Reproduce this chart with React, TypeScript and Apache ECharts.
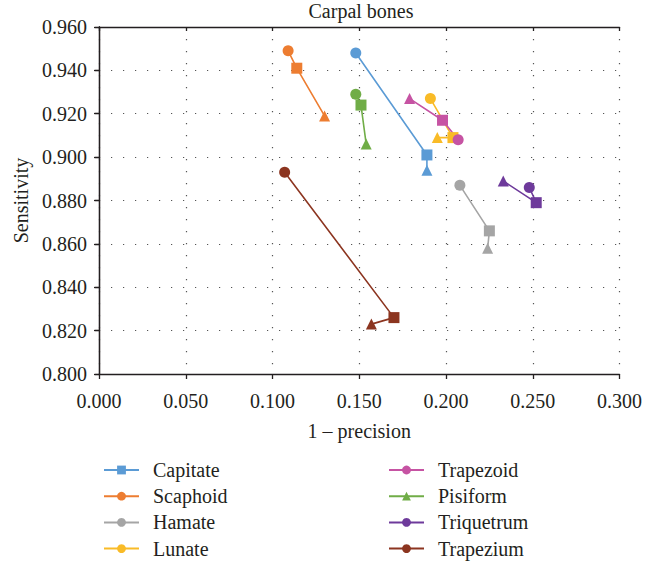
import React, { useEffect, useRef } from "react";
import * as echarts from "echarts";

const seriesNames = ["Capitate", "Scaphoid", "Hamate", "Lunate", "Trapezoid", "Pisiform", "Triquetrum", "Trapezium"];
const seriesColors = ["#5b9bd5", "#ed7d31", "#a5a5a5", "#f9bb27", "#c653a3", "#70ad47", "#6e3a9b", "#8c3520"];
const legendSymbols = ["rect", "circle", "circle", "circle", "circle", "triangle", "circle", "circle"];
// point order in each series: circle, square, triangle
const pointSymbols = ["circle", "rect", "triangle"];

const capitateX = [0.148, 0.189, 0.189];
const capitateY = [0.948, 0.901, 0.894];
const scaphoidX = [0.109, 0.114, 0.130];
const scaphoidY = [0.949, 0.941, 0.919];
const hamateX = [0.208, 0.225, 0.224];
const hamateY = [0.887, 0.866, 0.858];
const lunateX = [0.191, 0.204, 0.195];
const lunateY = [0.927, 0.909, 0.909];
const trapezoidX = [0.207, 0.198, 0.179];
const trapezoidY = [0.908, 0.917, 0.927];
const pisiformX = [0.148, 0.151, 0.154];
const pisiformY = [0.929, 0.924, 0.906];
const triquetrumX = [0.248, 0.252, 0.233];
const triquetrumY = [0.886, 0.879, 0.889];
const trapeziumX = [0.107, 0.170, 0.157];
const trapeziumY = [0.893, 0.826, 0.823];

const allX = [capitateX, scaphoidX, hamateX, lunateX, trapezoidX, pisiformX, triquetrumX, trapeziumX];
const allY = [capitateY, scaphoidY, hamateY, lunateY, trapezoidY, pisiformY, triquetrumY, trapeziumY];

const FONT = "Liberation Serif";
const TXT = "#231f20";
const FS = 20;

export default function App() {
  const ref = useRef<HTMLDivElement>(null);
  useEffect(() => {
    if (!ref.current) return;
    const chart = echarts.init(ref.current, null, { renderer: "svg" });
    const axisLine = { show: true, lineStyle: { color: "#231f20", width: 1.3 } };
    const split = { show: true, lineStyle: { color: "#555", width: 1.2, type: [1.2, 10.8] } };
    const series = seriesNames.map((name, i) => ({
      name,
      type: "line",
      xAxisIndex: 0,
      yAxisIndex: 0,
      symbol: legendSymbols[i],
      symbolSize: 11,
      color: seriesColors[i],
      lineStyle: { width: 1.6, color: seriesColors[i] },
      itemStyle: { color: seriesColors[i] },
      data: allX[i].map((x, j) => ({
        value: [x, allY[i][j]],
        symbol: pointSymbols[j],
        symbolSize: 11,
      })),
    }));
    const legendCommon = {
      orient: "vertical",
      padding: 0,
      height: 104,
      itemWidth: 35,
      itemHeight: 11,
      itemGap: 6.2,
      textStyle: { fontFamily: FONT, fontSize: FS, color: TXT, padding: [0, 0, 0, 9], lineHeight: 18 },
    };
    chart.setOption({
      animation: false,
      title: {
        text: "Carpal bones",
        left: 361,
        textAlign: "center",
        top: 1,
        padding: 0,
        textStyle: { fontFamily: FONT, fontSize: FS, fontWeight: "normal", color: TXT },
      },
      grid: { left: 99, right: 22, top: 27, bottom: 191, containLabel: false },
      legend: [
        { ...legendCommon, data: seriesNames.slice(0, 4), left: 103, top: 460 },
        { ...legendCommon, data: seriesNames.slice(4), left: 388, top: 460 },
      ],
      xAxis: [
        {
          type: "value",
          min: 0,
          max: 0.3,
          interval: 0.05,
          position: "bottom",
          name: "1 \u2013 precision",
          nameLocation: "middle",
          nameGap: 47,
          nameTextStyle: { fontFamily: FONT, fontSize: FS, color: TXT },
          axisLine,
          axisTick: { show: true, inside: false, length: 5, lineStyle: { color: "#231f20", width: 1.3 } },
          axisLabel: { fontFamily: FONT, fontSize: FS, color: TXT, margin: 17, formatter: (v: number) => v.toFixed(3) },
          splitLine: split,
        },
        {
          type: "value",
          min: 0,
          max: 0.3,
          interval: 0.05,
          position: "top",
          axisLine,
          axisTick: { show: true, inside: true, length: 4, lineStyle: { color: "#231f20", width: 1.3 } },
          axisLabel: { show: false },
          splitLine: { show: false },
        },
      ],
      yAxis: [
        {
          type: "value",
          min: 0.8,
          max: 0.96,
          interval: 0.02,
          position: "left",
          name: "Sensitivity",
          nameLocation: "middle",
          nameGap: 68,
          nameTextStyle: { fontFamily: FONT, fontSize: FS, color: TXT },
          axisLine,
          axisTick: { show: true, inside: false, length: 5, lineStyle: { color: "#231f20", width: 1.3 } },
          axisLabel: { fontFamily: FONT, fontSize: FS, color: TXT, margin: 12, formatter: (v: number) => v.toFixed(3) },
          splitLine: split,
        },
        {
          type: "value",
          min: 0.8,
          max: 0.96,
          interval: 0.02,
          position: "right",
          axisLine,
          axisTick: { show: true, inside: true, length: 4, lineStyle: { color: "#231f20", width: 1.3 } },
          axisLabel: { show: false },
          splitLine: { show: false },
        },
      ],
      series,
    });
    return () => chart.dispose();
  }, []);
  return <div ref={ref} style={{ width: 645, height: 565, position: "absolute", left: 0, top: 0 }} />;
}
